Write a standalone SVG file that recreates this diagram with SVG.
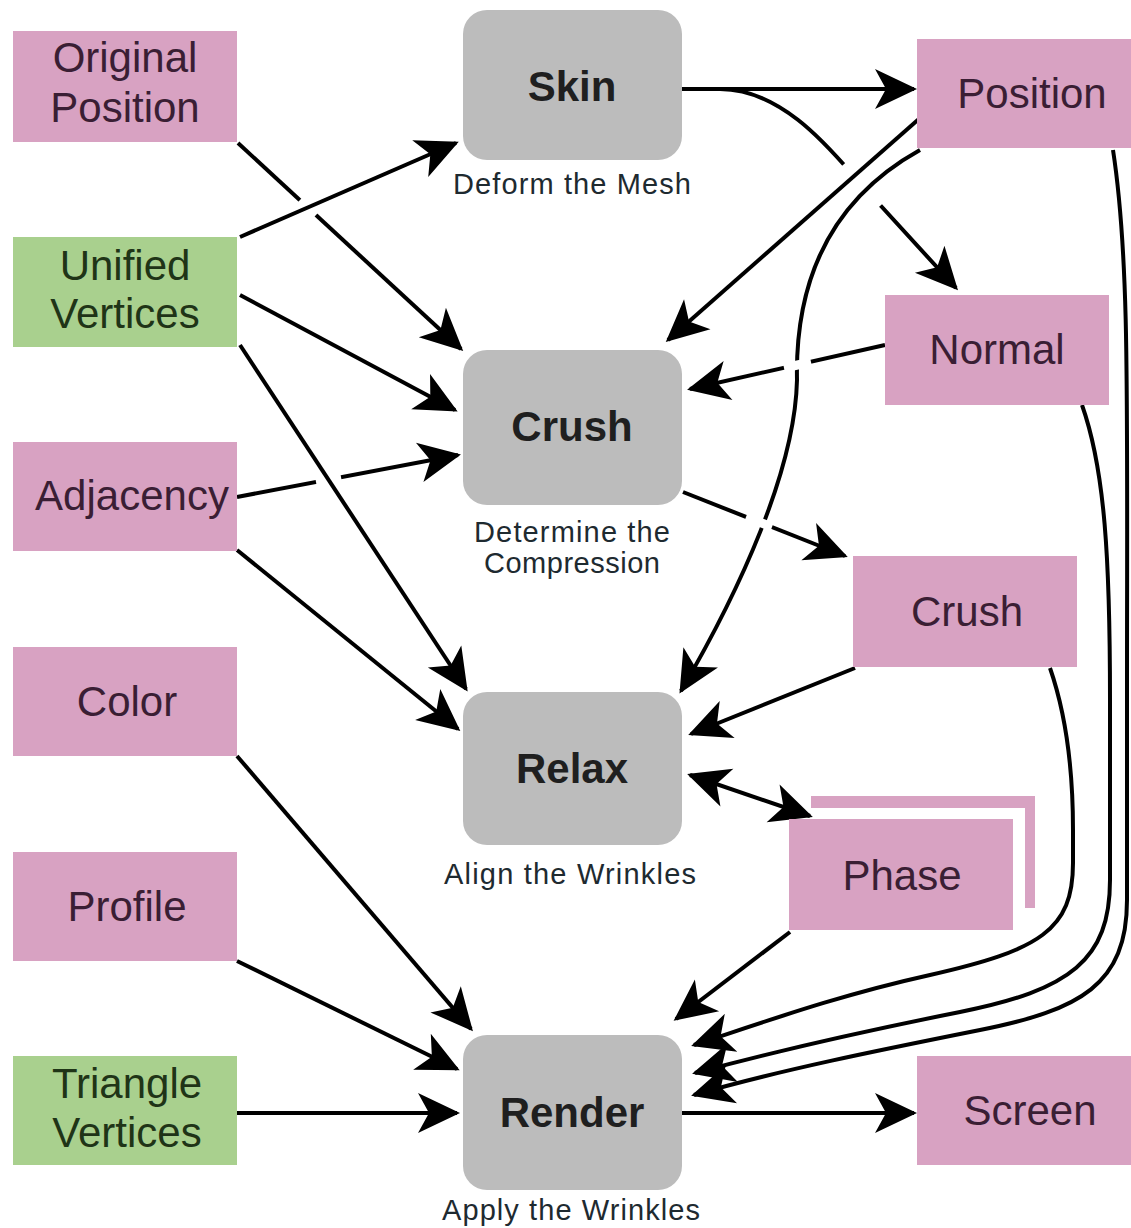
<svg xmlns="http://www.w3.org/2000/svg" width="1131" height="1228" viewBox="0 0 1131 1228">
<style>
  .pink { fill: #d8a2c2; }
  .green { fill: #a9d08e; }
  .grey { fill: #bcbcbc; }
  .lbl { font-family: "Liberation Sans", Arial, sans-serif; font-size: 42px; text-anchor: middle; }
  .pt { fill: #3a1e34; }
  .gt { fill: #1f3417; }
  .bt { fill: #1f1f1f; font-weight: bold; }
  .cap { font-family: "Liberation Sans", Arial, sans-serif; font-size: 29px; text-anchor: middle; fill: #1e2a30; }
  .ln { fill: none; stroke: #000; stroke-width: 4; }
  .arr { marker-end: url(#ah); }
  .gap { fill: none; stroke: #fff; stroke-width: 9; }
</style>
<defs>
  <marker id="ah" markerUnits="userSpaceOnUse" markerWidth="60" markerHeight="60" viewBox="-45 -30 60 60" refX="0" refY="0" orient="auto-start-reverse">
    <path d="M3,0 L-39,-20 L-28,0 L-39,20 Z" fill="#000"/>
  </marker>
</defs>
<rect width="1131" height="1228" fill="#fff"/>

<g id="connectors">
  <!-- right side -->
  <path class="ln arr" d="M682,89 L914,89"/>
  <path class="ln arr" d="M682,89 L720,89 C785,89 835,155 860,183 L956,288"/>
  <path class="gap" d="M843,165 L880,206"/>
  <path class="ln arr" d="M920,118 L668,340"/>
  <path class="ln arr" d="M920,150 C830,200 795,280 797,380 C795,470 740,590 681,691"/>
  <path class="ln arr" d="M885,345 L690,389"/>
  <path class="gap" d="M811,362 L784,368"/>
  <path class="ln arr" d="M683,492 L845,556"/>
  <path class="gap" d="M746,517 L772,527"/>
  <path class="ln arr" d="M855,668 L691,734"/>
  <path class="ln arr" d="M690,775 L810,816" style="marker-start:url(#ah)"/>
  <path class="ln arr" d="M790,932 L676,1019"/>
  <path class="ln arr" d="M1050,668 C1068,720 1073,780 1073,830 L1073,863 C1073,930 1040,950 930,975 C840,995 770,1020 694,1045"/>
  <path class="ln arr" d="M1082,405 C1105,470 1110,560 1110,700 L1110,880 C1110,960 1070,990 960,1012 C860,1032 780,1050 695,1073"/>
  <path class="ln arr" d="M1113,150 C1130,260 1127,400 1127,700 L1127,900 C1127,985 1080,1010 980,1030 C880,1050 780,1070 694,1095"/>
  <path class="ln arr" d="M682,1113 L914,1113"/>
  <!-- left side -->
  <path class="ln arr" d="M238,143 L461,349"/>
  <path class="gap" d="M300,200 L316,215"/>
  <path class="ln arr" d="M240,237 L456,143"/>
  <path class="ln arr" d="M240,295 L455,410"/>
  <path class="ln arr" d="M237,497 L458,455"/>
  <path class="gap" d="M316,482 L341,477"/>
  <path class="ln arr" d="M240,345 L466,689"/>
  <path class="ln arr" d="M237,550 L458,729"/>
  <path class="ln arr" d="M237,756 L471,1029"/>
  <path class="ln arr" d="M237,961 L457,1069"/>
  <path class="ln arr" d="M237,1113 L457,1113"/>
</g>

<g id="original-position">
  <rect class="pink" x="13" y="31" width="224" height="111"/>
  <text class="lbl pt" x="125" y="72">Original</text>
  <text class="lbl pt" x="125" y="122">Position</text>
</g>
<g id="unified-vertices">
  <rect class="green" x="13" y="237" width="224" height="110"/>
  <text class="lbl gt" x="125" y="280">Unified</text>
  <text class="lbl gt" x="125" y="328">Vertices</text>
</g>
<g id="adjacency">
  <rect class="pink" x="13" y="442" width="224" height="109"/>
  <text class="lbl pt" x="132" y="510">Adjacency</text>
</g>
<g id="color">
  <rect class="pink" x="13" y="647" width="224" height="109"/>
  <text class="lbl pt" x="127" y="716">Color</text>
</g>
<g id="profile">
  <rect class="pink" x="13" y="852" width="224" height="109"/>
  <text class="lbl pt" x="127" y="921">Profile</text>
</g>
<g id="triangle-vertices">
  <rect class="green" x="13" y="1056" width="224" height="109"/>
  <text class="lbl gt" x="127" y="1098">Triangle</text>
  <text class="lbl gt" x="127" y="1147">Vertices</text>
</g>

<g id="skin">
  <rect class="grey" x="463" y="10" width="219" height="150" rx="24"/>
  <text class="lbl bt" x="572" y="101">Skin</text>
  <text class="cap" x="572" y="194" textLength="238" lengthAdjust="spacing">Deform the Mesh</text>
</g>
<g id="crush">
  <rect class="grey" x="463" y="350" width="219" height="155" rx="24"/>
  <text class="lbl bt" x="572" y="441">Crush</text>
  <text class="cap" x="572" y="542" textLength="196" lengthAdjust="spacing">Determine the</text>
  <text class="cap" x="572" y="573" textLength="176" lengthAdjust="spacing">Compression</text>
</g>
<g id="relax">
  <rect class="grey" x="463" y="692" width="219" height="153" rx="24"/>
  <text class="lbl bt" x="572" y="783">Relax</text>
  <text class="cap" x="570" y="884" textLength="252" lengthAdjust="spacing">Align the Wrinkles</text>
</g>
<g id="render">
  <rect class="grey" x="463" y="1035" width="219" height="155" rx="24"/>
  <text class="lbl bt" x="572" y="1127">Render</text>
  <text class="cap" x="571" y="1220" textLength="258" lengthAdjust="spacing">Apply the Wrinkles</text>
</g>

<g id="position">
  <rect class="pink" x="917" y="39" width="230" height="109"/>
  <text class="lbl pt" x="1032" y="108">Position</text>
</g>
<g id="normal">
  <rect class="pink" x="885" y="295" width="224" height="110"/>
  <text class="lbl pt" x="997" y="364">Normal</text>
</g>
<g id="crush-out">
  <rect class="pink" x="853" y="556" width="224" height="111"/>
  <text class="lbl pt" x="967" y="626">Crush</text>
</g>
<g id="phase">
  <path class="pink" d="M811,796 L1035,796 L1035,908 L1025,908 L1025,808 L811,808 Z"/>
  <rect class="pink" x="789" y="819" width="224" height="111"/>
  <text class="lbl pt" x="902" y="890">Phase</text>
</g>
<g id="screen">
  <rect class="pink" x="917" y="1056" width="230" height="109"/>
  <text class="lbl pt" x="1030" y="1125">Screen</text>
</g>
</svg>
